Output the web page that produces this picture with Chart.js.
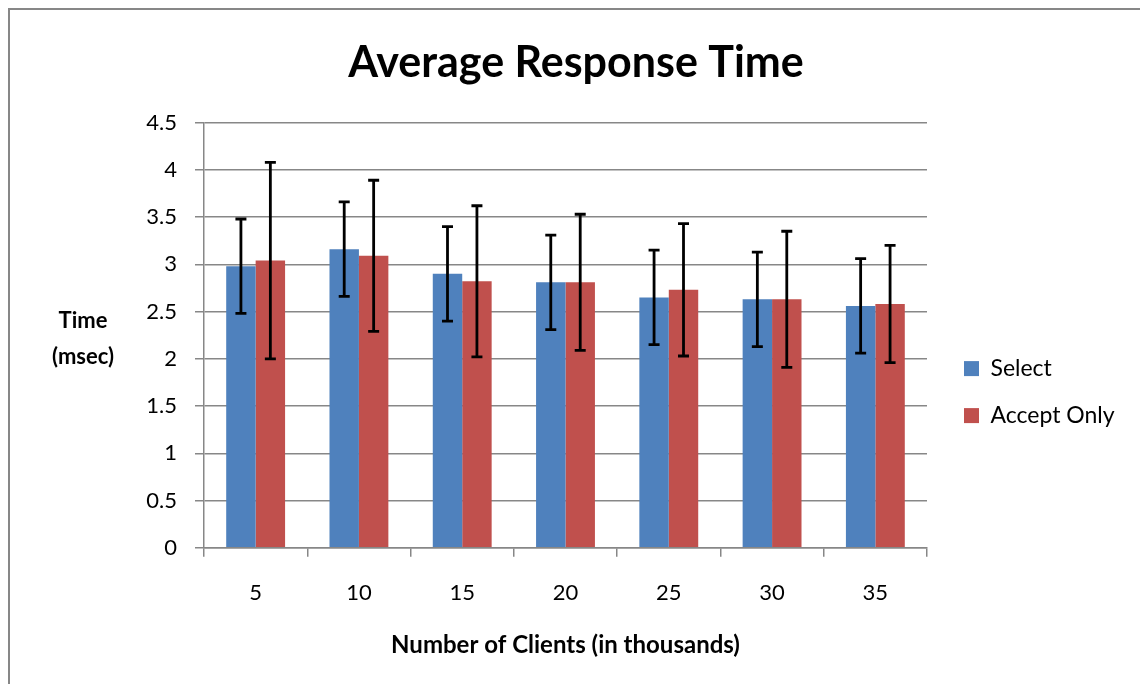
<!DOCTYPE html>
<html>
<head>
<meta charset="utf-8">
<script src="https://cdn.jsdelivr.net/npm/chart.js@4"></script>
<style>
  body { margin: 0; background: #fff; overflow: hidden; }
  #wrap { position: relative; width: 1140px; height: 684px; }
  #frame { position: absolute; left: 8px; top: 8px; width: 1200px; height: 800px; border: 2px solid #878787; }
  #wrap canvas { position: absolute; left: 0; top: 0; }
</style>
</head>
<body>
<div id="wrap">
  <div id="frame"></div>
  <canvas id="barChart"></canvas>
</div>
<script>
// 横軸のラベル（千クライアント）
var clients = ["5", "10", "15", "20", "25", "30", "35"];
// 平均応答時間 (msec)
var selectTimes = [2.98, 3.16, 2.90, 2.81, 2.65, 2.63, 2.56];
var acceptTimes = [3.04, 3.09, 2.82, 2.81, 2.73, 2.63, 2.58];
// エラーバーの幅（±）
var selectErr = [0.5, 0.5, 0.5, 0.5, 0.5, 0.5, 0.5];
var acceptErr = [1.04, 0.8, 0.8, 0.72, 0.7, 0.72, 0.62];
// 縦軸の目盛り
var yTicks = [0, 0.5, 1, 1.5, 2, 2.5, 3, 3.5, 4, 4.5];

var fontName = "Lato, 'Liberation Sans', sans-serif";

//エラーバーを描くプラグイン
var errorBars = {
  id: "errorBars",
  afterDatasetsDraw: function (chart) {
    var ctx = chart.ctx;
    var yScale = chart.scales.y;
    ctx.save();
    ctx.strokeStyle = "#000";
    ctx.lineWidth = 2.8;
    chart.data.datasets.forEach(function (ds, i) {
      var meta = chart.getDatasetMeta(i);
      meta.data.forEach(function (bar, j) {
        var v = ds.data[j];
        var e = ds.errors[j];
        var top = yScale.getPixelForValue(v + e);
        var bottom = yScale.getPixelForValue(v - e);
        ctx.beginPath();
        ctx.moveTo(bar.x, top);
        ctx.lineTo(bar.x, bottom);
        ctx.moveTo(bar.x - 5.5, top);
        ctx.lineTo(bar.x + 5.5, top);
        ctx.moveTo(bar.x - 5.5, bottom);
        ctx.lineTo(bar.x + 5.5, bottom);
        ctx.stroke();
      });
    });
    ctx.restore();
  }
};

//縦軸タイトル（横書き2行）
var yTitle = {
  id: "yTitle",
  afterDraw: function (chart) {
    var ctx = chart.ctx;
    var area = chart.chartArea;
    var x = area.left - 121;
    var mid = (area.top + area.bottom) / 2 + 4;
    ctx.save();
    ctx.fillStyle = "#000";
    ctx.font = "bold 22px " + fontName;
    ctx.textAlign = "center";
    ctx.textBaseline = "middle";
    ctx.fillText("Time", x, mid - 18);
    ctx.fillText("(msec)", x, mid + 18);
    ctx.restore();
  }
};

var ctx1 = document.getElementById("barChart");
var myChart = new Chart(ctx1, {
  type: "bar",
  data: {
    labels: clients,
    datasets: [
      {
        label: "Select",
        data: selectTimes,
        errors: selectErr,
        backgroundColor: "#4F81BD"
      },
      {
        label: "Accept Only",
        data: acceptTimes,
        errors: acceptErr,
        backgroundColor: "#C0504D"
      }
    ]
  },
  options: {
    responsive: true,
    maintainAspectRatio: false,
    animation: false,
    categoryPercentage: 0.57,
    barPercentage: 1.0,
    layout: {
      padding: { left: 30, right: 18, top: 10, bottom: 24 }
    },
    plugins: {
      tooltip: { enabled: false },
      title: {
        display: true,
        text: "Average Response Time",
        color: "#000",
        font: { family: fontName, size: 43, weight: "bold" },
        padding: { top: 27, bottom: 34 }
      },
      legend: {
        position: "right",
        align: "center",
        //凡例を下にずらすための空タイトル
        title: {
          display: true,
          text: "",
          font: { size: 1 },
          padding: { top: 113, bottom: 0 }
        },
        labels: {
          boxWidth: 15,
          boxHeight: 15,
          padding: 24,
          color: "#000",
          font: { family: fontName, size: 23 }
        }
      }
    },
    scales: {
      x: {
        grid: {
          drawOnChartArea: false,
          drawTicks: true,
          tickLength: 9,
          color: "#878787",
          lineWidth: 1.5
        },
        border: { color: "#878787", width: 1.5 },
        ticks: {
          color: "#000",
          padding: 23,
          font: { family: fontName, size: 22 }
        },
        title: {
          display: true,
          text: "Number of Clients (in thousands)",
          color: "#000",
          font: { family: fontName, size: 24, weight: "bold" },
          padding: { top: 2, bottom: 0 }
        }
      },
      y: {
        min: 0,
        max: 4.5,
        afterBuildTicks: function (axis) {
          axis.ticks = yTicks.map(function (v) { return { value: v }; });
        },
        //縦軸の幅（タイトル分の余白を含む）
        afterFit: function (axis) {
          axis.width = 174;
        },
        grid: {
          color: "#878787",
          lineWidth: 1.5,
          tickLength: 9
        },
        border: { color: "#878787", width: 1.5 },
        ticks: {
          color: "#000",
          padding: 18,
          font: { family: fontName, size: 22 },
          callback: function (value) {
            return String(value);
          }
        }
      },
      //凡例との間隔をあけるための見えない軸
      gap: {
        type: "linear",
        position: "right",
        grid: { display: false },
        border: { display: false },
        ticks: { display: false },
        afterFit: function (axis) {
          axis.width = 13;
        }
      }
    }
  },
  plugins: [errorBars, yTitle]
});
</script>
</body>
</html>
